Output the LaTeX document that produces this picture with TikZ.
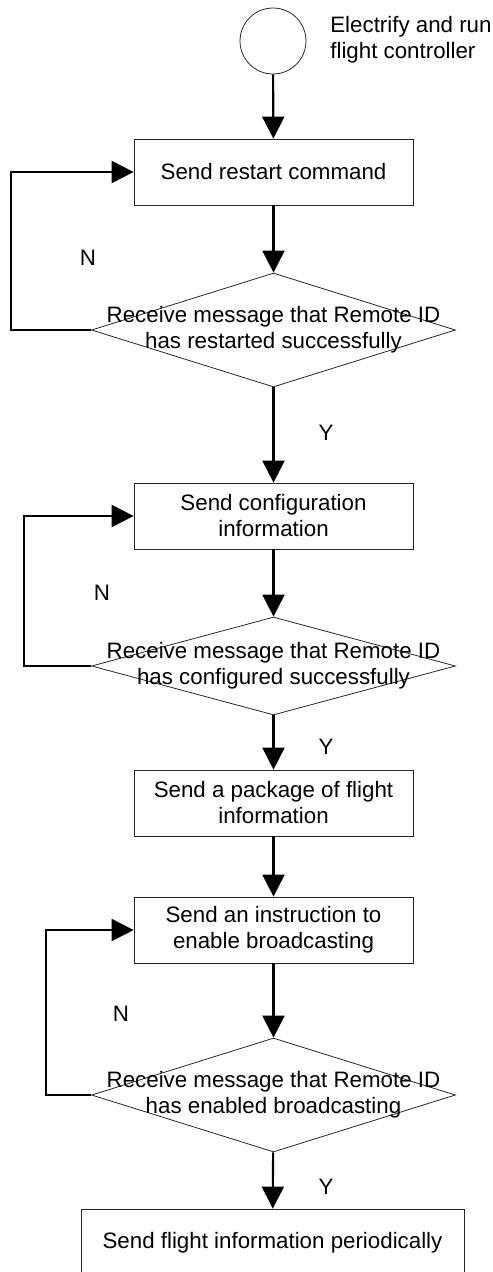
\documentclass[tikz,border=0pt]{standalone}
\usepackage{fontspec}
\setmainfont{Liberation Sans}
\usetikzlibrary{shapes.geometric, arrows.meta}

\begin{document}
\begin{tikzpicture}[x=0.02cm, y=-0.02cm,
        font=\fontsize{12.7}{14.8}\selectfont,
        box/.style={draw=black!85, line width=0.45pt, minimum width=5.58cm, minimum height=1.32cm, align=center, inner sep=0pt},
        decision/.style={diamond, draw=black!85, line width=0.45pt, minimum width=7.28cm, inner sep=0pt},
        flow/.style={line width=1.2pt, -{Triangle[length=0.44cm, width=0.44cm]}}]
        \clip (0, 0) rectangle (493, 1272);

        \node[circle, draw=black!85, line width=0.45pt, minimum size=1.32cm, inner sep=0pt] (start) at (273, 41) {};
        \node[anchor=west, align=left, inner sep=0pt] (startlabel) at (330, 40) {Electrify and run\\flight controller};

        \node[box] (restart) at (273.5, 172) {Send restart command};
        \node[decision, minimum height=2.28cm, label={[align=center]center:Receive message that Remote ID\\has restarted successfully}] (restarted) at (273.5, 330) {};

        \draw[flow] (start) -- (restart);
        \draw[flow] (restart) -- (restarted);
        \draw[flow] (restarted.west) -- ++(-80, 0) |- (restart.west);
        \node (n1) at (88, 258) {N};

        %%%

        \node[box] (config) at (273.5, 516) {Send configuration\\information};
        \node[decision, minimum height=1.96cm, label={[align=center]center:Receive message that Remote ID\\has configured successfully}] (configured) at (273.5, 666) {};

        \draw[flow] (restarted) -- (config);
        \node (y1) at (326, 433) {Y};
        \draw[flow] (config) -- (configured);
        \draw[flow] (configured.west) -- ++(-67, 0) |- (config.west);
        \node (n2) at (102, 593) {N};

        %%%

        \node[box] (package) at (273.5, 803) {Send a package of flight\\information};
        \node[box] (enable) at (273.5, 930) {Send an instruction to\\enable broadcasting};
        \node[decision, minimum height=2.28cm, label={[align=center]center:Receive message that Remote ID\\has enabled broadcasting}] (enabled) at (273.5, 1095) {};

        \draw[flow] (configured) -- (package);
        \node (y2) at (326, 747) {Y};
        \draw[flow] (package) -- (enable);
        \draw[flow] (enable) -- (enabled);
        \draw[flow] (enabled.west) -- ++(-45, 0) |- (enable.west);
        \node (n3) at (121, 1014) {N};

        %%%

        \node[box, minimum width=7.66cm, minimum height=1.36cm] (periodic) at (272.5, 1243) {Send flight information periodically};

        \draw[flow] (enabled) -- (periodic);
        \node (y3) at (326, 1187) {Y};
    \end{tikzpicture}
\end{document}
